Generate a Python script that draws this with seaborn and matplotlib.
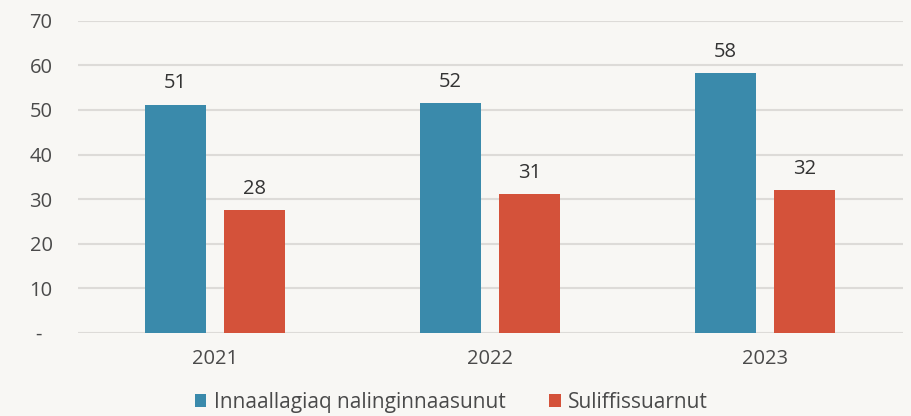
import matplotlib
matplotlib.use("Agg")
import matplotlib.pyplot as plt
import pandas as pd
import seaborn as sns

years = ["2021", "2022", "2023"]
series_names = ["Innaallagiaq nalinginnaasunut", "Suliffissuarnut"]
innaallagiaq = [51.2, 51.6, 58.3]
suliffissuarnut = [27.5, 31.1, 32.0]
colors = ["#3a8aab", "#d4523a"]
y_ticks = [0, 10, 20, 30, 40, 50, 60, 70]
y_labels = ["-  ", "10", "20", "30", "40", "50", "60", "70"]

df = pd.DataFrame({
    "year": years * 2,
    "series": [series_names[0]] * 3 + [series_names[1]] * 3,
    "value": innaallagiaq + suliffissuarnut,
})

bg = "#f8f7f4"
sns.set_theme(style="white")
plt.rcParams["font.family"] = ["Open Sans", "DejaVu Sans"]

fig, ax = plt.subplots(figsize=(9.12, 4.16), dpi=100)
fig.patch.set_facecolor(bg)
ax.set_facecolor(bg)

sns.barplot(data=df, x="year", y="value", hue="series", palette=colors,
            saturation=1, width=0.576, gap=0.23, linewidth=0, ax=ax, legend=True)

for container in ax.containers:
    ax.bar_label(container, labels=[f"{v:.0f}" for v in container.datavalues],
                 padding=8, fontsize=14.5, color="#333333")

ax.set_ylim(0, 70)
ax.set_xlim(-0.5, 2.5)
ax.set_yticks(y_ticks)
ax.set_yticklabels(y_labels)
ax.yaxis.grid(True, color="#dddbd8", linewidth=1.5)
ax.set_axisbelow(True)
for s in ax.spines.values():
    s.set_visible(False)
ax.tick_params(axis="both", length=0, labelsize=14.5, colors="#4a4a4a")
ax.tick_params(axis="y", pad=18)
ax.tick_params(axis="x", pad=12)
ax.set_xlabel("")
ax.set_ylabel("")

handles, labels = ax.get_legend_handles_labels()
ax.legend(handles, labels, loc="upper center", bbox_to_anchor=(0.453, -0.13),
          ncol=2, frameon=False, fontsize=15, handlelength=0.55, handleheight=0.55,
          handletextpad=0.35, columnspacing=2.1, labelcolor="#4a4a4a")

fig.subplots_adjust(left=0.085, right=0.99, top=0.95, bottom=0.2)
fig.savefig("out.png", dpi=100, facecolor=bg)
